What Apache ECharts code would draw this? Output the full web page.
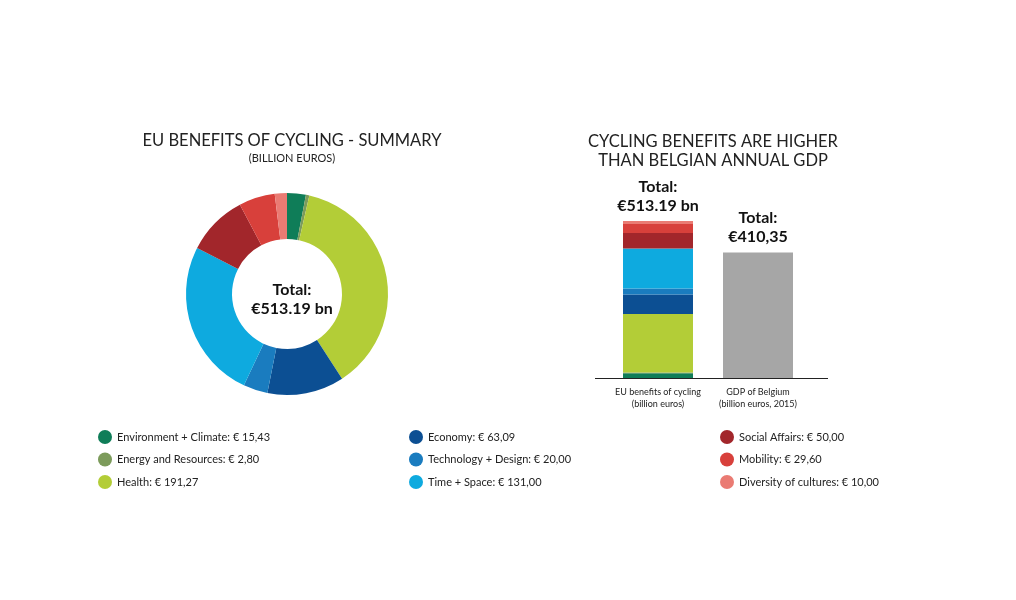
<!DOCTYPE html>
<html><head><meta charset="utf-8">
<script src="https://cdn.jsdelivr.net/npm/echarts@6/dist/echarts.min.js"></script>
<style>html,body{margin:0;padding:0;background:#fff}#c{width:1016px;height:600px}</style>
</head><body><div id="c"></div>
<script>
const categories = ['Environment + Climate','Energy and Resources','Health','Economy','Technology + Design','Time + Space','Social Affairs','Mobility','Diversity of cultures'];
const values = [15.43, 2.80, 191.27, 63.09, 20.00, 131.00, 50.00, 29.60, 10.00];
const colors = ['#0f7d58','#7c9b5b','#b3cd37','#0c4f93','#1a7cbf','#0eaadf','#a2262b','#d8403b','#ea7b73'];
const barCategories = ['EU benefits of cycling\n(billion euros)', 'GDP of Belgium\n(billion euros, 2015)'];
const gdpValue = 410.35;
const totalText = '€513.19 bn';
const gdpText = '€410,35';

const chart = echarts.init(document.getElementById('c'));
const fmt = v => v.toFixed(2).replace('.', ',');
const labelMap = {};
categories.forEach((c,i)=>{ labelMap[c] = c + ': € ' + fmt(values[i]); });

const legendBase = {
  orient: 'vertical', icon: 'circle', itemWidth: 14, itemHeight: 14, itemGap: 8.5,
  textStyle: {fontFamily: 'Lato', fontSize: 11, color: '#222'},
  formatter: n => labelMap[n], selectedMode: false
};

const barSeries = categories.map((c,i)=>({
  name: c, type: 'bar', stack: 'a', barWidth: 70,
  xAxisIndex: 0, yAxisIndex: 0,
  itemStyle: {color: colors[i]},
  data: [values[i], '-'],
  silent: true,
  label: i === categories.length - 1 ? {
    show: true, position: 'top', distance: 6,
    formatter: 'Total:\n' + totalText,
    fontFamily: 'Lato', fontWeight: 'bold', fontSize: 16, lineHeight: 19, color: '#111'
  } : {show: false}
}));
barSeries.push({
  name: 'GDP', type: 'bar', stack: 'a', barWidth: 70,
  itemStyle: {color: '#a6a6a6'}, silent: true,
  data: ['-', gdpValue],
  label: {show: true, position: 'top', distance: 6,
    formatter: 'Total:\n' + gdpText,
    fontFamily: 'Lato', fontWeight: 'bold', fontSize: 16, lineHeight: 19, color: '#111'}
});

chart.setOption({
  backgroundColor: '#fff',
  animation: false,
  title: [
    {text: 'EU BENEFITS OF CYCLING - SUMMARY', subtext: '(BILLION EUROS)', left: 287, top: 127, textAlign: 'center', itemGap: 4,
     textStyle: {fontFamily: 'Lato', fontWeight: 'normal', fontSize: 16.5, color: '#222'},
     subtextStyle: {fontFamily: 'Lato', fontSize: 11, color: '#222'}},
    {text: 'CYCLING BENEFITS ARE HIGHER\nTHAN BELGIAN ANNUAL GDP', left: 708, top: 127, textAlign: 'center',
     textStyle: {fontFamily: 'Lato', fontWeight: 'normal', fontSize: 16.5, lineHeight: 19, color: '#222'}},
    {text: 'Total:\n' + totalText, left: 287, top: 275, textAlign: 'center',
     textStyle: {fontFamily: 'Lato', fontWeight: 'bold', fontSize: 16, lineHeight: 19, color: '#111'}}
  ],
  legend: [
    Object.assign({}, legendBase, {left: 93, top: 425, data: categories.slice(0,3)}),
    Object.assign({}, legendBase, {left: 404, top: 425, data: categories.slice(3,6)}),
    Object.assign({}, legendBase, {left: 715, top: 425, data: categories.slice(6,9)})
  ],
  grid: {left: 608, width: 200, top: 221, bottom: 222, containLabel: false},
  xAxis: {type: 'category', data: barCategories,
    axisLine: {show: false}, axisTick: {show: false},
    axisLabel: {interval: 0, fontFamily: 'Lato', fontSize: 9, color: '#222', lineHeight: 12, margin: 8}},
  yAxis: {type: 'value', min: 0, max: 'dataMax', show: false, splitLine: {show: false}},
  graphic: [{type: 'line', shape: {x1: 595, y1: 378.5, x2: 828, y2: 378.5}, style: {stroke: '#222', lineWidth: 1}, silent: true}],
  series: [
    {type: 'pie', center: [287, 294], radius: [55, 101], startAngle: 90, clockwise: true,
     label: {show: false}, labelLine: {show: false}, silent: true,
     itemStyle: {borderWidth: 0},
     data: categories.map((c,i)=>({name: c, value: values[i], itemStyle: {color: colors[i]}}))}
  ].concat(barSeries)
});
</script></body></html>
